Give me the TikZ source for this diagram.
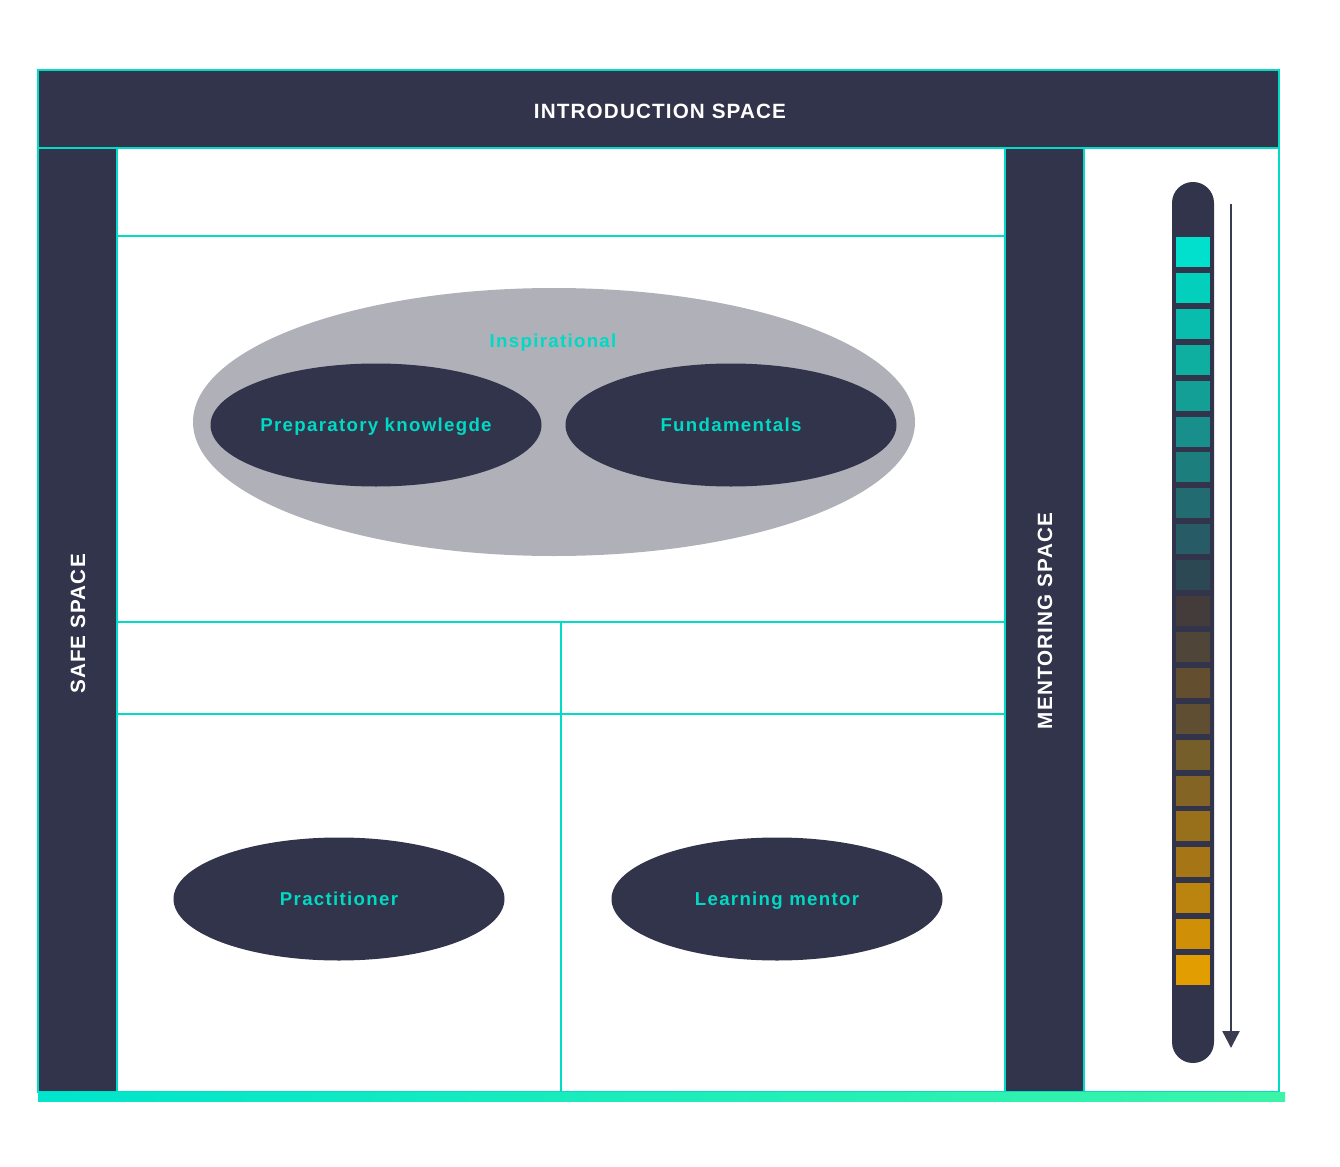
\documentclass[tikz,border=0pt]{standalone}
\usepackage{fontspec}
\setmainfont{Liberation Sans}
\newfontfamily\labfont[LetterSpace=7]{Liberation Sans}
\newfontfamily\headfont[LetterSpace=5.5]{Liberation Sans}
\usetikzlibrary{shapes.geometric,arrows.meta}
\definecolor{dark}{HTML}{31344A}
\definecolor{teal1}{HTML}{00DCC8}
\definecolor{labteal}{HTML}{00D9C4}
\definecolor{greyell}{HTML}{B0B0B8}
\definecolor{gstart}{HTML}{00E5CC}
\definecolor{gend}{HTML}{3AF5A8}
\definecolor{arrowc}{HTML}{3A3D4F}
\definecolor{c1}{HTML}{00E0CC}
\definecolor{c2}{HTML}{02D0BD}
\definecolor{c3}{HTML}{08BDAE}
\definecolor{c4}{HTML}{0EAFA0}
\definecolor{c5}{HTML}{139F95}
\definecolor{c6}{HTML}{188F8A}
\definecolor{c7}{HTML}{1D7E7E}
\definecolor{c8}{HTML}{226C71}
\definecolor{c9}{HTML}{275B65}
\definecolor{c10}{HTML}{2C4853}
\definecolor{c11}{HTML}{433C3B}
\definecolor{c12}{HTML}{4F4538}
\definecolor{c13}{HTML}{634F30}
\definecolor{c14}{HTML}{5F4E31}
\definecolor{c15}{HTML}{765E2B}
\definecolor{c16}{HTML}{846424}
\definecolor{c17}{HTML}{98701C}
\definecolor{c18}{HTML}{A67616}
\definecolor{c19}{HTML}{BB840F}
\definecolor{c20}{HTML}{CF8F06}
\definecolor{c21}{HTML}{E29E00}
\begin{document}
\begin{tikzpicture}[x=0.75pt,y=-0.75pt,
  frame/.style={draw=teal1,line width=1.5pt},
  darkbox/.style={frame,fill=dark},
  headtxt/.style={text=white,font=\headfont\fontsize{15.5}{18}\selectfont\bfseries,text depth=0pt},
  oval/.style={ellipse,fill=dark,draw=none,minimum width=248.25pt,minimum height=92.25pt,inner sep=0pt,text=labteal,font=\labfont\fontsize{14}{16}\selectfont\bfseries,text depth=0pt},
  bigoval/.style={ellipse,fill=greyell,draw=none,minimum width=541.5pt,minimum height=201pt,inner sep=0pt},
  lab/.style={text=labteal,font=\labfont\fontsize{14}{16}\selectfont\bfseries,text depth=0pt}
]
\useasboundingbox (0,0) rectangle (1340,1167);
% intro bar
\draw[darkbox] (38,70) rectangle (1279,148);
\node[headtxt] (intro) at (660,111) {INTRODUCTION SPACE};
% safe space
\draw[darkbox] (38,148) rectangle (117,1092);
\node[headtxt,rotate=90] (safe) at (78,624) {SAFE SPACE};
% main area
\draw[frame] (117,148) rectangle (1005,1092);
\draw[frame] (117,236) -- (1005,236);
\draw[frame] (117,622) -- (1005,622);
\draw[frame] (117,714) -- (1005,714);
\draw[frame] (561,622) -- (561,1092);
% mentoring space
\draw[darkbox] (1005,148) rectangle (1084,1092);
\node[headtxt,rotate=90] (mentor) at (1045,621) {MENTORING SPACE};
% right panel
\draw[frame] (1084,148) rectangle (1279,1092);
% bottom gradient bar
\shade[left color=gstart,right color=gend] (38,1092) rectangle (1285,1101);
% ellipses
\node[bigoval] (insp) at (554,422) {};
\node[lab] (insplab) at (553,341) {Inspirational};
\node[oval] (prep) at (376,425) {Preparatory knowlegde};
\node[oval] (fund) at (731,425) {Fundamentals};
\node[oval] (prac) at (339,899) {Practitioner};
\node[oval] (lm) at (777,899) {Learning mentor};
% colour bar
\draw[fill=dark,draw=none,rounded corners=15.7pt] (1172,182) rectangle (1214,1063);
\foreach \i in {1,...,21}{
  \fill[c\i] (1176,{237+35.9*(\i-1)}) rectangle (1210,{267+35.9*(\i-1)});
}
\coordinate (as) at (1231,204);
\coordinate (ae) at (1231,1048);
\draw[arrowc,line width=1.8pt,-{Triangle[width=12.75pt,length=12.75pt]}] (as) -- (ae);
\end{tikzpicture}
\end{document}
